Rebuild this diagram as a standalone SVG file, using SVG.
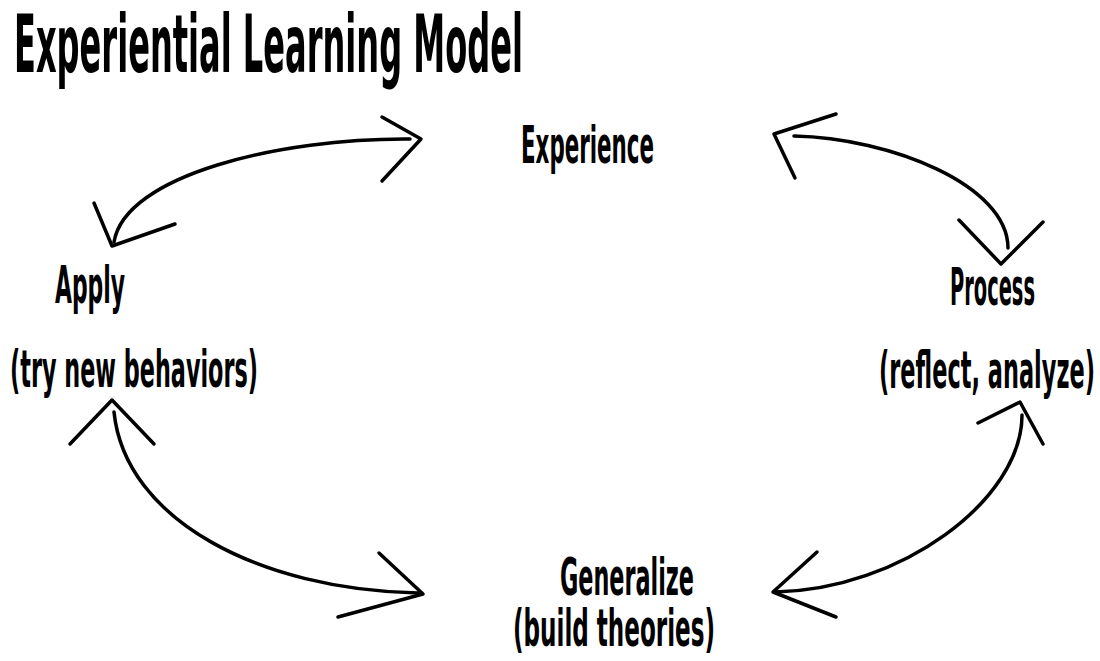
<svg xmlns="http://www.w3.org/2000/svg" width="1100" height="661" viewBox="0 0 1100 661">
<style>
.t{font-family:"DejaVu Sans Condensed","DejaVu Sans","Liberation Sans",sans-serif;font-weight:bold;font-stretch:condensed;fill:#000}
.lbl{font-size:52px}
.ttl{font-size:80px}
.c{fill:none;stroke:#000;stroke-width:3.5;stroke-linecap:round;stroke-linejoin:round}
</style>
<rect width="1100" height="661" fill="#fff"/>
<text class="t ttl" x="14" y="72" textLength="509" lengthAdjust="spacingAndGlyphs">Experiential Learning Model</text>
<g id="experience"><text class="t lbl" x="521" y="163" textLength="133" lengthAdjust="spacingAndGlyphs">Experience</text></g>
<g id="process">
<text class="t lbl" x="950" y="305" textLength="85" lengthAdjust="spacingAndGlyphs">Process</text>
<text class="t lbl" x="879" y="388" textLength="216" lengthAdjust="spacingAndGlyphs">(reflect, analyze)</text>
</g>
<g id="generalize">
<text class="t lbl" x="560" y="595" textLength="134" lengthAdjust="spacingAndGlyphs">Generalize</text>
<text class="t lbl" x="513" y="646" textLength="202" lengthAdjust="spacingAndGlyphs">(build theories)</text>
</g>
<g id="apply">
<text class="t lbl" x="55" y="303" textLength="70" lengthAdjust="spacingAndGlyphs">Apply</text>
<text class="t lbl" x="10" y="387" textLength="248" lengthAdjust="spacingAndGlyphs">(try new behaviors)</text>
</g>
<g id="connectors">
<path class="c" d="M114 242 C125 175 280 138 410 139"/>
<polyline class="c" points="382,117 421,139 382,181"/>
<polyline class="c" points="94,203 112,246 175,224"/>
<path class="c" d="M794 136 C890 138 1008 185 1008 248"/>
<polyline class="c" points="836,114 774,134 795,178"/>
<polyline class="c" points="959,220 1001,264 1043,222"/>
<path class="c" d="M114 412 C125 520 260 590 418 593"/>
<polyline class="c" points="70,444 112,400 154,444"/>
<polyline class="c" points="379,553 423,594 338,617"/>
<path class="c" d="M1022 415 C1022 500 900 590 775 592"/>
<polyline class="c" points="978,423 1020,402 1043,444"/>
<polyline class="c" points="817,552 773,592 836,617"/>
</g>
</svg>
